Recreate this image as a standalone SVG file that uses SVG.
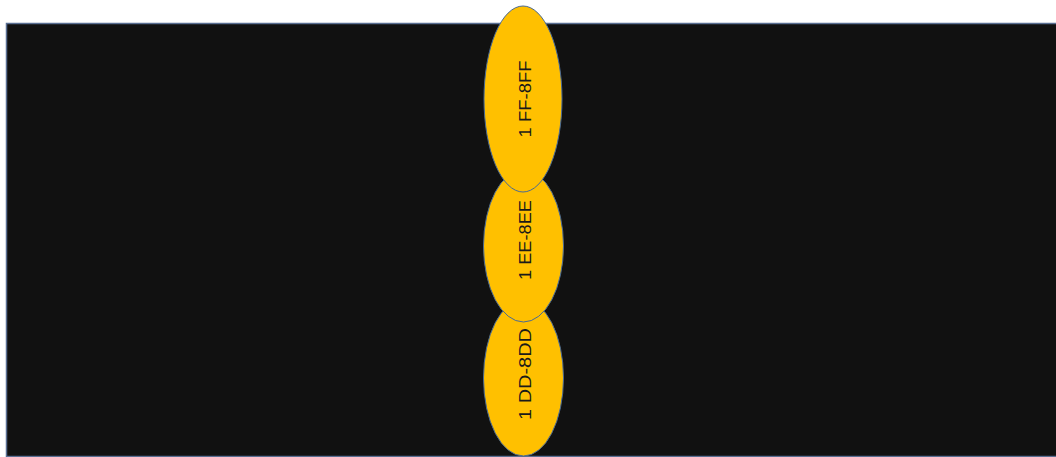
<svg xmlns="http://www.w3.org/2000/svg" width="1056" height="457" viewBox="0 0 1056 457">
  <style>
    .panel { fill: #111111; stroke: #5a6f93; stroke-width: 1.5; }
    .node ellipse { fill: #ffc000; stroke: #4a6a94; stroke-width: 1; }
    .node text { font-family: "Liberation Sans", "Open Sans", sans-serif; font-size: 17px; fill: #1a1a1a; text-anchor: middle; }
  </style>
  <rect width="1056" height="457" fill="#ffffff"/>
  <rect class="panel" x="6.5" y="23.5" width="1052" height="433"/>
  <g id="connectors"/>
  <!-- stacked from bottom to top so each upper ellipse overlaps the one below -->
  <g id="node-dd" class="node">
    <ellipse cx="523.5" cy="378" rx="40" ry="78"/>
    <text transform="translate(531,374) rotate(-90)" textLength="92" lengthAdjust="spacingAndGlyphs">1 DD-8DD</text>
  </g>
  <g id="node-ee" class="node">
    <ellipse cx="523.5" cy="246" rx="40" ry="76"/>
    <text transform="translate(531,240) rotate(-90)" textLength="80" lengthAdjust="spacingAndGlyphs">1 EE-8EE</text>
  </g>
  <g id="node-ff" class="node">
    <ellipse cx="523" cy="99" rx="39" ry="93"/>
    <text transform="translate(531,99) rotate(-90)" textLength="77" lengthAdjust="spacingAndGlyphs">1 FF-8FF</text>
  </g>
</svg>
